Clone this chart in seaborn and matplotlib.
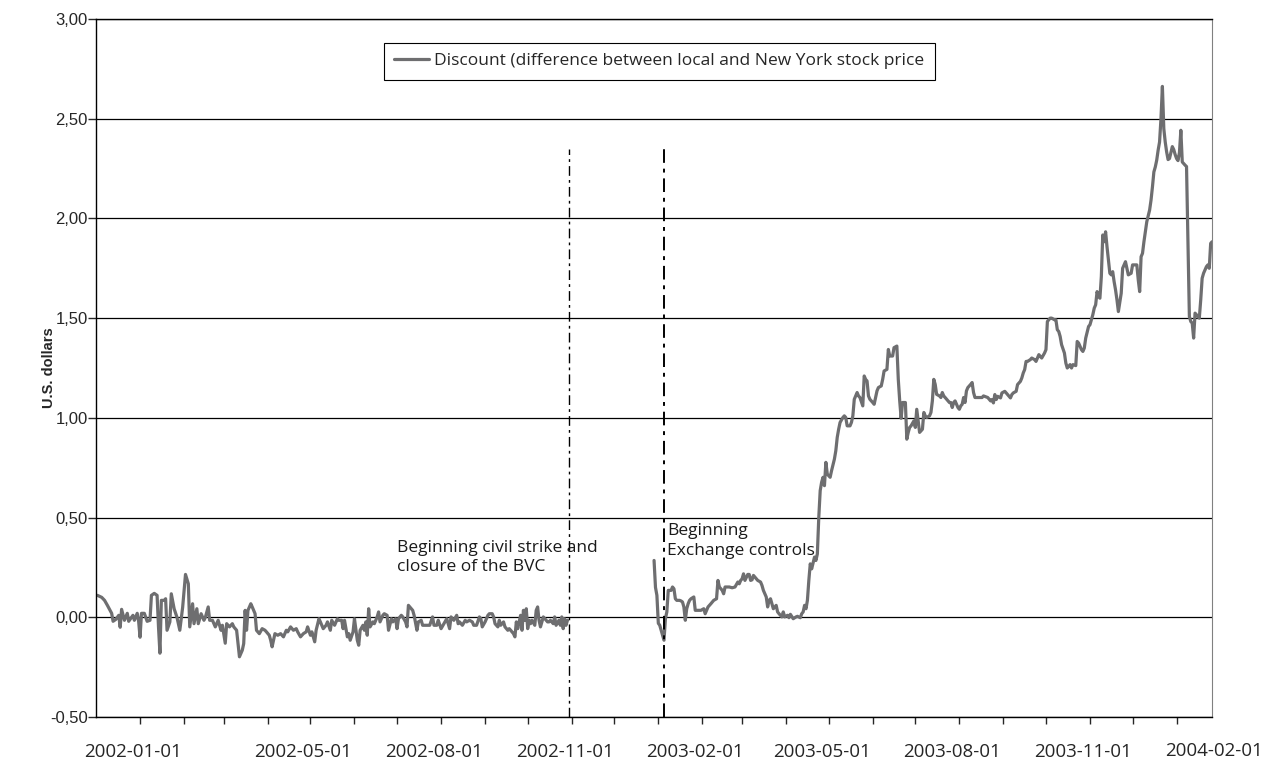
import numpy as np
import pandas as pd
import matplotlib
matplotlib.use("Agg")
import matplotlib.pyplot as plt
from matplotlib.ticker import FuncFormatter
from matplotlib.transforms import ScaledTranslation
import seaborn as sns

# dates are given as days after 2001-12-01
start = pd.Timestamp("2001-12-01")
end = pd.Timestamp("2004-01-26")

# before the closure of the BVC
days_before = [1, 4, 6, 8, 11, 12, 14, 16, 17, 18, 20, 22, 23, 26, 27, 29, 30, 31, 32, 34,
               36, 38, 39, 41, 43, 44, 45, 46, 48, 49, 50, 52, 53, 55, 57, 59, 61, 63, 65, 66,
               68, 69, 71, 72, 74, 76, 77, 79, 80, 82, 84, 86, 88, 89, 91, 92, 94, 96, 97, 99,
               101, 103, 104, 105, 106, 107, 109, 110, 112, 113, 115, 117, 119, 120, 122, 123, 124, 126, 128, 130,
               132, 134, 135, 137, 139, 141, 142, 144, 146, 148, 149, 151, 152, 154, 155, 157, 158, 160, 162, 163,
               165, 166, 168, 170, 171, 173, 174, 175, 177, 178, 179, 181, 182, 184, 185, 186, 188, 189, 190, 191,
               192, 193, 195, 196, 198, 199, 200, 202, 203, 205, 206, 208, 209, 211, 212, 213, 215, 216, 218, 219,
               220, 222, 223, 224, 226, 227, 229, 230, 232, 233, 235, 237, 238, 240, 241, 243, 245, 247, 249, 250,
               252, 254, 255, 256, 258, 260, 261, 263, 265, 266, 268, 270, 271, 272, 274, 276, 277, 279, 280, 281,
               283, 284, 285, 287, 288, 290, 291, 292, 294, 295, 296, 297, 299, 300, 301, 302, 303, 304, 305, 306,
               307, 309, 310, 311, 312, 313, 314, 315, 317, 318, 319, 320, 322, 323, 324, 326, 327, 328, 329, 330,
               331, 332]
discount_before = [0.11, 0.10, 0.085, 0.06, 0.02, -0.02, -0.01, 0.01, -0.05, 0.04, -0.015, 0.02, -0.02, 0.01, -0.015, 0.02, -0.02, -0.10, 0.02, 0.02,
                   -0.02, -0.015, 0.11, 0.12, 0.11, -0.05, -0.18, 0.085, 0.085, 0.093, -0.065, -0.023, 0.118, 0.043, 0.0, -0.065, 0.05, 0.215, 0.168, -0.048,
                   0.068, -0.032, 0.043, -0.032, 0.018, -0.015, 0.0, 0.052, -0.015, -0.015, -0.048, -0.015, -0.065, -0.04, -0.13, -0.032, -0.048, -0.032, -0.048, -0.065,
                   -0.198, -0.165, -0.132, 0.035, -0.065, 0.035, 0.068, 0.052, 0.018, -0.065, -0.082, -0.057, -0.065, -0.073, -0.09, -0.115, -0.148, -0.082, -0.09, -0.082,
                   -0.098, -0.065, -0.073, -0.048, -0.065, -0.057, -0.073, -0.098, -0.082, -0.073, -0.048, -0.09, -0.073, -0.123, -0.065, -0.007, -0.023, -0.057, -0.04, -0.023,
                   -0.065, -0.015, -0.04, -0.007, -0.015, -0.015, -0.057, -0.015, -0.098, -0.082, -0.115, -0.073, -0.007, -0.115, -0.14, -0.065, -0.04, -0.065, -0.023, -0.09,
                   0.043, -0.048, -0.023, -0.032, 0.002, 0.027, -0.023, 0.01, 0.018, 0.01, -0.065, -0.007, -0.023, -0.007, -0.057, -0.007, 0.01, 0.002, -0.023, -0.048,
                   0.06, 0.043, 0.035, 0.01, -0.065, -0.023, -0.015, -0.04, -0.04, -0.04, -0.04, 0.002, -0.04, -0.04, -0.015, -0.057, -0.032, -0.007, -0.057, 0.002,
                   -0.015, 0.01, -0.032, -0.023, -0.04, -0.015, -0.023, -0.015, -0.023, -0.04, -0.04, 0.002, -0.007, -0.048, -0.023, 0.01, 0.018, 0.018, 0.002, -0.032,
                   -0.048, -0.015, -0.04, -0.023, -0.048, -0.065, -0.057, -0.065, -0.082, -0.098, -0.023, -0.057, 0.01, -0.065, 0.035, -0.015, 0.043, -0.057, -0.015, -0.032,
                   -0.015, -0.04, 0.035, 0.052, -0.015, -0.048, -0.023, 0.002, -0.015, -0.023, -0.023, -0.015, -0.032, 0.002, -0.04, -0.015, -0.04, 0.002, -0.057, -0.007,
                   -0.04, -0.015]

# after trading resumed
days_after = [393, 394, 395, 396, 397, 398, 399, 400, 401, 402, 403, 404, 405, 406, 407, 408, 409, 411, 412, 413,
              414, 415, 416, 417, 418, 419, 421, 422, 424, 426, 428, 429, 431, 433, 435, 437, 438, 439, 441, 442,
              443, 446, 448, 450, 452, 453, 454, 455, 456, 457, 459, 460, 461, 462, 463, 465, 466, 468, 469, 470,
              472, 473, 474, 475, 476, 477, 479, 480, 481, 483, 484, 485, 487, 488, 489, 491, 493, 494, 496, 497,
              498, 499, 500, 501, 502, 503, 504, 506, 507, 508, 509, 510, 511, 512, 513, 514, 515, 516, 517, 518,
              520, 521, 522, 523, 524, 526, 527, 528, 529, 531, 532, 533, 534, 536, 537, 538, 540, 541, 542, 543,
              544, 545, 547, 548, 549, 550, 551, 553, 554, 555, 557, 558, 559, 561, 562, 564, 565, 566, 567, 568,
              569, 570, 571, 572, 573, 574, 576, 577, 578, 579, 580, 581, 582, 583, 584, 585, 587, 588, 589, 590,
              591, 592, 594, 595, 596, 597, 598, 600, 601, 602, 603, 604, 605, 607, 608, 609, 610, 611, 612, 613,
              614, 615, 616, 617, 618, 619, 622, 624, 625, 628, 630, 631, 632, 633, 634, 635, 637, 638, 640, 641,
              643, 644, 645, 646, 648, 649, 650, 651, 652, 653, 654, 655, 656, 658, 659, 661, 662, 663, 664, 665,
              666, 668, 669, 670, 671, 672, 673, 675, 676, 677, 678, 679, 680, 682, 683, 684, 685, 686, 687, 688,
              690, 691, 692, 693, 694, 695, 696, 697, 699, 700, 702, 703, 704, 705, 706, 707, 708, 709, 710, 711,
              712, 713, 714, 715, 716, 717, 718, 719, 720, 722, 723, 724, 725, 726, 727, 729, 730, 731, 733, 734,
              735, 736, 737, 738, 739, 740, 742, 743, 744, 745, 746, 747, 748, 749, 750, 751, 752, 753, 754, 755,
              756, 757, 758, 759, 760, 761, 762, 763, 764, 765, 766, 767, 768, 770, 771, 772, 773, 774, 775, 776,
              777, 778, 779, 780, 781, 782, 783, 784, 785, 786]
discount_after = [0.285, 0.15, 0.11, -0.03, -0.04, -0.065, -0.09, -0.115, -0.007, 0.027, 0.135, 0.135, 0.135, 0.152, 0.143, 0.093, 0.085, 0.085, 0.082, 0.077,
                  0.052, -0.015, 0.043, 0.068, 0.085, 0.093, 0.102, 0.035, 0.035, 0.035, 0.043, 0.018, 0.052, 0.068, 0.085, 0.093, 0.185, 0.152, 0.135, 0.118,
                  0.152, 0.152, 0.148, 0.152, 0.177, 0.168, 0.185, 0.193, 0.218, 0.185, 0.215, 0.215, 0.185, 0.188, 0.21, 0.193, 0.185, 0.177, 0.16, 0.135,
                  0.102, 0.052, 0.085, 0.093, 0.068, 0.043, 0.06, 0.027, 0.018, 0.002, 0.027, 0.002, 0.01, -0.002, 0.015, -0.007, 0.002, 0.005, -0.002, 0.018,
                  0.027, 0.06, 0.043, 0.085, 0.185, 0.268, 0.243, 0.302, 0.285, 0.318, 0.5, 0.635, 0.677, 0.702, 0.66, 0.777, 0.718, 0.71, 0.702, 0.735,
                  0.793, 0.835, 0.902, 0.943, 0.977, 1.002, 1.01, 1.002, 0.96, 0.96, 0.977, 1.01, 1.093, 1.127, 1.11, 1.102, 1.06, 1.21, 1.193, 1.185,
                  1.11, 1.093, 1.077, 1.068, 1.102, 1.135, 1.152, 1.16, 1.193, 1.235, 1.243, 1.343, 1.31, 1.31, 1.352, 1.36, 1.193, 1.085, 0.998, 1.077,
                  1.077, 1.077, 0.893, 0.927, 0.952, 0.96, 0.985, 0.952, 1.043, 0.985, 0.927, 0.935, 0.943, 1.027, 1.01, 1.002, 1.01, 1.027, 1.085, 1.193,
                  1.168, 1.118, 1.11, 1.102, 1.127, 1.11, 1.102, 1.085, 1.077, 1.077, 1.052, 1.077, 1.085, 1.052, 1.043, 1.06, 1.068, 1.102, 1.077, 1.135,
                  1.152, 1.16, 1.168, 1.177, 1.127, 1.102, 1.102, 1.102, 1.11, 1.102, 1.085, 1.092, 1.075, 1.117, 1.092, 1.108, 1.10, 1.125, 1.133, 1.125,
                  1.108, 1.10, 1.117, 1.125, 1.133, 1.167, 1.175, 1.183, 1.20, 1.225, 1.242, 1.283, 1.283, 1.292, 1.30, 1.292, 1.283, 1.30, 1.317, 1.308,
                  1.30, 1.325, 1.342, 1.483, 1.492, 1.50, 1.50, 1.492, 1.492, 1.442, 1.433, 1.408, 1.367, 1.325, 1.275, 1.25, 1.258, 1.267, 1.25, 1.267,
                  1.262, 1.383, 1.375, 1.358, 1.342, 1.333, 1.35, 1.40, 1.458, 1.467, 1.517, 1.55, 1.567, 1.633, 1.608, 1.60, 1.708, 1.917, 1.883, 1.933,
                  1.858, 1.792, 1.725, 1.717, 1.733, 1.683, 1.642, 1.592, 1.533, 1.625, 1.75, 1.767, 1.783, 1.75, 1.717, 1.725, 1.767, 1.767, 1.767, 1.692,
                  1.633, 1.808, 1.825, 1.883, 1.933, 1.983, 2.042, 2.092, 2.158, 2.233, 2.258, 2.292, 2.342, 2.383, 2.50, 2.662, 2.45, 2.383, 2.333, 2.295,
                  2.30, 2.33, 2.36, 2.345, 2.32, 2.30, 2.29, 2.33, 2.442, 2.283, 2.275, 2.267, 2.26, 1.508, 1.483, 1.475, 1.40, 1.525, 1.517, 1.508,
                  1.50, 1.592, 1.70, 1.725, 1.742, 1.758, 1.767, 1.75, 1.875, 1.883]

strike_date = "2002-10-30"
controls_date = "2003-01-05"
labelled_months = ["2002-01-01", "2002-05-01", "2002-08-01", "2002-11-01", "2003-02-01",
                   "2003-05-01", "2003-08-01", "2003-11-01"]
last_label = "2004-02-01"
y_ticks = [-0.5, 0.0, 0.5, 1.0, 1.5, 2.0, 2.5, 3.0]
legend_text = "Discount (difference between local and New York stock price"

df = pd.DataFrame({
    "date": start + pd.to_timedelta(days_before + days_after, unit="D"),
    "discount": discount_before + discount_after,
    "segment": ["before"] * len(days_before) + ["after"] * len(days_after),
})

sns.set_style("white")
plt.rcParams["font.family"] = ["Open Sans", "DejaVu Sans"]

fig = plt.figure(figsize=(12.72, 7.59), dpi=100)
ax = fig.add_axes([0.0755, 0.0553, 0.8774, 0.9197])

sns.lineplot(data=df, x="date", y="discount", units="segment", estimator=None,
             color="#6e6e70", lw=2.3, ax=ax, sort=False)

ax.set_xlim(start, end)
ax.set_ylim(-0.5, 3.0)

# horizontal grid
ax.set_yticks(y_ticks)
ax.yaxis.grid(True, color="black", lw=0.9)
ax.xaxis.grid(False)
ax.yaxis.set_major_formatter(FuncFormatter(lambda v, p: f"{v:.2f}".replace(".", ",")))
ax.tick_params(axis="y", direction="out", length=6, width=1, pad=0, labelsize=12,
               left=True, labelfontfamily="Liberation Sans")

# monthly ticks, labels only on some
months = pd.date_range("2002-01-01", "2004-01-01", freq="MS")
ax.set_xticks(months)
ax.set_xticklabels([m.strftime("%Y-%m-%d") if m.strftime("%Y-%m-%d") in labelled_months else ""
                    for m in months])
ax.tick_params(axis="x", direction="out", length=5, width=1, pad=14, labelsize=13.5, bottom=True)
shift = ScaledTranslation(-0.07, 0, fig.dpi_scale_trans)
for lab in ax.get_xticklabels():
    lab.set_transform(lab.get_transform() + shift)
ax.text(pd.Timestamp(last_label), -0.036, last_label, transform=ax.get_xaxis_transform() + shift,
        ha="center", va="top", fontsize=13.5, clip_on=False)

ax.set_xlabel("")
ax.set_ylabel("U.S. dollars", fontsize=10.5, fontweight="bold", family="Liberation Sans", labelpad=-4)

for side in ["left", "bottom", "top"]:
    ax.spines[side].set_color("black")
    ax.spines[side].set_linewidth(1)
ax.spines["right"].set_color("#808080")

# event markers
ax.vlines(pd.Timestamp(strike_date), -0.5, 2.35, colors="black", lw=1, linestyles=(0, (7, 3, 2, 3)))
ax.vlines(pd.Timestamp(controls_date), -0.5, 2.35, colors="black", lw=1.4, linestyles=(0, (7, 3, 2, 3)))
ax.text(pd.Timestamp("2002-07-01"), 0.39, "Beginning civil strike and\nclosure of the BVC",
        ha="left", va="top", fontsize=12.5, linespacing=1.25, color="#1a1a1a")
ax.text(pd.Timestamp("2003-01-07"), 0.475, "Beginning\nExchange controls",
        ha="left", va="top", fontsize=12.5, linespacing=1.35, color="#1a1a1a")

leg = ax.legend([ax.get_lines()[0]], [legend_text], loc="upper center", bbox_to_anchor=(0.5045, 0.966),
                frameon=True, fancybox=False, edgecolor="black", framealpha=1, borderaxespad=0,
                handlelength=2.0, handletextpad=0.3, fontsize=12.5, borderpad=0.6)
leg.get_frame().set_linewidth(0.8)

fig.savefig("out.png", dpi=100)
